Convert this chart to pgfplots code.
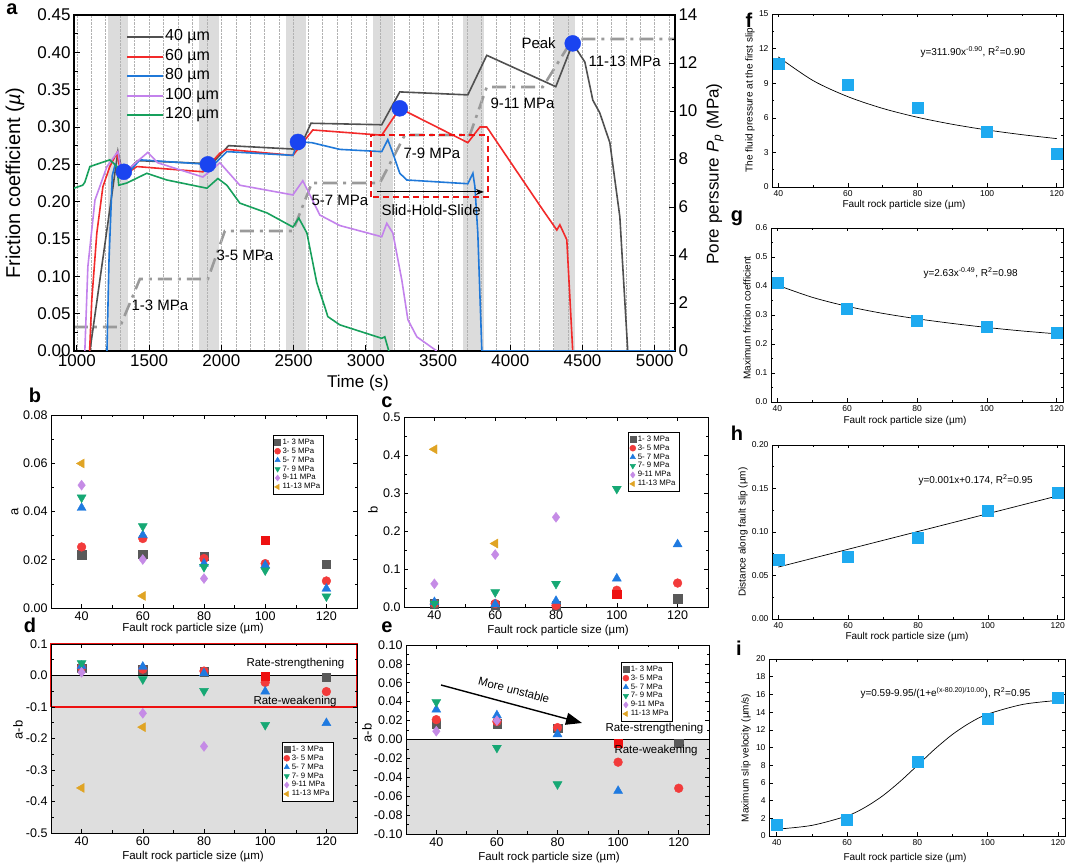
\documentclass[border=0pt]{standalone}
\usepackage{fontspec}
\setmainfont{Liberation Sans}
\usepackage{pgfplots}
\pgfplotsset{compat=1.18}
\usetikzlibrary{arrows.meta}

\definecolor{c40}{HTML}{505050}
\definecolor{c60}{HTML}{F22A2A}
\definecolor{c80}{HTML}{1F78D8}
\definecolor{c100}{HTML}{C382EC}
\definecolor{c120}{HTML}{17A05C}
\definecolor{cpore}{HTML}{9A9A9A}
\definecolor{dotblue}{HTML}{1A44F0}
\definecolor{band}{HTML}{DCDCDC}
\definecolor{gfill}{HTML}{DEDEDE}
\definecolor{msq}{HTML}{595959}
\definecolor{mci}{HTML}{F23B3B}
\definecolor{mtri}{HTML}{1F7AE0}
\definecolor{mdn}{HTML}{16A874}
\definecolor{mdia}{HTML}{C58BE6}
\definecolor{mleft}{HTML}{E0A424}
\definecolor{mred}{HTML}{EE1111}
\definecolor{sky}{HTML}{1EAAF0}

\newcommand{\fs}[1]{\fontsize{#1}{#1}\selectfont}

\pgfplotsset{
  every axis/.append style={scale only axis, anchor=south west, tick align=inside,
    scaled ticks=false, /pgf/number format/assume math mode=true,
    /pgf/number format/1000 sep={}},
  prec/.style={/pgf/number format/.cd, fixed, fixed zerofill, precision=#1, /tikz/.cd},
  sp/.style={xmin=30, xmax=130, xtick={40,60,80,100,120}, minor x tick num=1,
    minor y tick num=1, tick label style={font=\fs{12.5}},
    major tick length=4pt, minor tick length=2.5pt,
    axis line style={line width=0.8pt}, every tick/.style={black, line width=0.6pt},
    legend style={anchor=north west, font=\fs{7.8}, draw=black, line width=0.5pt,
      inner sep=1.5pt, row sep=-2pt, cells={anchor=west}},
    legend image post style={mark size=3pt}},
  rp/.style={xmin=38.2, xmax=121.8, xtick={40,60,80,100,120}, minor x tick num=1,
    minor y tick num=1, tick label style={font=\fs{8.5}},
    major tick length=3.5pt, minor tick length=2pt,
    axis line style={line width=0.7pt}, every tick/.style={black, line width=0.5pt}},
  m1/.style={only marks, mark=square*, mark size=4.2pt, color=msq},
  m2/.style={only marks, mark=*, mark size=4.4pt, color=mci},
  m3/.style={only marks, mark=triangle*, mark size=5.2pt, color=mtri},
  m4/.style={only marks, mark=triangle*, mark size=5.2pt, mark options={rotate=180}, color=mdn},
  m5/.style={only marks, mark=diamond*, mark size=5pt, color=mdia},
  m6/.style={only marks, mark=triangle*, mark size=5.2pt, mark options={rotate=90}, color=mleft},
  mr/.style={only marks, mark=square*, mark size=4.2pt, color=mred, forget plot},
  sq/.style={only marks, mark=square*, mark size=5.5pt, color=sky},
  fit/.style={black, line width=0.7pt, smooth, no marks},
}

\begin{document}
\begin{tikzpicture}[x=1pt,y=1pt]
\useasboundingbox (0,0) rectangle (1068,866);

% ---------- panel a: pore pressure (right axis)
\begin{axis}[at={(74pt,515pt)}, width=601pt, height=336pt,
  xmin=980, xmax=5140, ymin=0, ymax=14, axis on top,
  xtick=\empty, ytick={0,2,...,14}, minor y tick num=1,
  ytick pos=right, yticklabel pos=right, axis line style={draw=none},
  tick label style={font=\fs{17}}, major tick length=6pt, minor tick length=3.5pt,
  every tick/.style={black, line width=0.8pt}]
\addplot[fill=band, draw=none] coordinates {(1215,0) (1353,0) (1353,14) (1215,14)};
\addplot[fill=band, draw=none] coordinates {(1844,0) (1983,0) (1983,14) (1844,14)};
\addplot[fill=band, draw=none] coordinates {(2446,0) (2585,0) (2585,14) (2446,14)};
\addplot[fill=band, draw=none] coordinates {(3049,0) (3187,0) (3187,14) (3049,14)};
\addplot[fill=band, draw=none] coordinates {(3671,0) (3817,0) (3817,14) (3671,14)};
\addplot[fill=band, draw=none] coordinates {(4301,0) (4446,0) (4446,14) (4301,14)};
\addplot[cpore, line width=2.6pt, dash pattern=on 14pt off 6pt on 3pt off 6pt] coordinates {
(979,1) (1298,1) (1436,3) (1907,3) (2024,5) (2495,5) (2626,7) (3097,7)
(3270,9) (3720,9) (3837,11) (4225,11) (4432,13) (5140,13)};
\end{axis}

% ---------- panel a: friction (left axis)
\begin{axis}[at={(74pt,515pt)}, width=601pt, height=336pt,
  xmin=980, xmax=5140, ymin=0, ymax=0.45,
  xtick={1000,1500,...,5000}, minor xtick={1000,1100,...,5100},
  ytick={0,0.05,0.1,0.15,0.2,0.25,0.3,0.35,0.4,0.45}, minor y tick num=1,
  xtick pos=left, ytick pos=left, yticklabel style={prec=2},
  xmajorgrids, xminorgrids, grid style={densely dotted, gray!60, line width=0.6pt},
  minor x tick style={draw=none},
  axis line style={line width=1.2pt},
  tick label style={font=\fs{17}}, major tick length=6pt, minor tick length=3.5pt,
  every tick/.style={black, line width=0.8pt}]
\addplot[c40, line width=1.6pt] coordinates {
(1090,0) (1284,0.267) (1320,0.235) (1420,0.255) (1900,0.251) (1930,0.25)
(2050,0.275) (2540,0.270) (2620,0.305) (3110,0.303) (3235,0.347) (3706,0.343)
(3837,0.396) (4315,0.354) (4432,0.412) (4516,0.387) (4571,0.336) (4619,0.319)
(4689,0.279) (4758,0.18) (4813,0)};
\addplot[c60, line width=1.6pt] coordinates {
(1088,0) (1103,0.068) (1138,0.158) (1180,0.22) (1228,0.247) (1276,0.265)
(1311,0.233) (1415,0.247) (1872,0.24) (1990,0.265) (2038,0.27) (2495,0.262)
(2633,0.296) (3110,0.289) (3235,0.325) (3706,0.279) (3790,0.300) (3837,0.300)
(4225,0.189) (4322,0.162) (4343,0.169) (4391,0.149) (4432,0)};
\addplot[c80, line width=1.6pt] coordinates {
(1208,0) (1222,0.12) (1245,0.235) (1265,0.25) (1300,0.24) (1340,0.235)
(1436,0.256) (1907,0.250) (1960,0.252) (2038,0.267) (2495,0.262) (2530,0.28)
(2626,0.279) (2820,0.27) (3110,0.267) (3152,0.283) (3187,0.265) (3235,0.238)
(3284,0.229) (3706,0.224) (3741,0.238) (3755,0.22) (3775,0.158) (3803,0) (5140,0)};
\addplot[c100, line width=1.6pt] coordinates {
(1055,0) (1076,0.113) (1125,0.202) (1208,0.247) (1284,0.267) (1311,0.236)
(1491,0.266) (1560,0.252) (1872,0.233) (1990,0.252) (2128,0.222) (2495,0.209)
(2564,0.228) (2682,0.182) (2820,0.168) (3110,0.153) (3145,0.171) (3187,0.158)
(3249,0.095) (3291,0.042) (3353,0.019) (3491,0)};
\addplot[c120, line width=1.6pt] coordinates {
(979,0.218) (1040,0.222) (1055,0.226) (1090,0.247) (1228,0.256) (1277,0.247)
(1290,0.222) (1346,0.225) (1484,0.238) (1623,0.229) (1900,0.218) (1976,0.231)
(2038,0.222) (2128,0.198) (2315,0.185) (2495,0.166) (2536,0.178) (2592,0.158)
(2661,0.091) (2716,0.059) (2737,0.046) (2820,0.035) (3110,0.017) (3131,0.019) (3159,0)};
\addplot[only marks, mark=*, mark size=8pt, color=dotblue] coordinates {
(1325,0.24) (1907,0.25) (2530,0.28) (3235,0.325) (4432,0.412)};
\draw[color=mred, dash pattern=on 6pt off 4pt, line width=2.2pt]
  (axis cs:3035,0.206) rectangle (axis cs:3844,0.289);
\draw[-{Stealth[length=8pt,width=6pt]}, line width=0.9pt]
  (axis cs:3076,0.213) -- (axis cs:3817,0.213);
\end{axis}

% legend of panel a
\foreach \c/\t/\yy in {c40/40/829, c60/60/809, c80/80/790, c100/100/770, c120/120/751} {
  \draw[\c, line width=1.6pt] (127,\yy) -- (163,\yy);
  \node[font=\fs{16}, anchor=west, inner sep=1pt] at (164,\yy) {\t\ µm};
}

% ---------- panel b
\begin{axis}[sp, at={(51pt,258pt)}, width=306pt, height=193pt,
  ymin=0, ymax=0.08, ytick={0,0.02,0.04,0.06,0.08}, yticklabel style={prec=2},
  legend style={at={(0.725,0.896)}}]
\addplot[m1] coordinates {(40,0.0221) (60,0.0223) (80,0.0214) (120,0.0181)};
\addlegendentry{1- 3 MPa}
\addplot[m2] coordinates {(40,0.0253) (60,0.0288) (80,0.0205) (100,0.0184) (120,0.0112)};
\addlegendentry{3- 5 MPa}
\addplot[m3] coordinates {(40,0.0415) (60,0.0302) (80,0.0184) (100,0.0177) (120,0.008)};
\addlegendentry{5- 7 MPa}
\addplot[m4] coordinates {(40,0.0458) (60,0.0339) (80,0.017) (100,0.0156) (120,0.0048)};
\addlegendentry{7- 9 MPa}
\addplot[m5] coordinates {(40,0.0509) (60,0.0201) (80,0.0122)};
\addlegendentry{9-11 MPa}
\addplot[m6] coordinates {(40,0.0599) (60,0.005)};
\addlegendentry{11-13 MPa}
\addplot[mr] coordinates {(100,0.0281)};
\end{axis}

% ---------- panel c
\begin{axis}[sp, at={(404pt,259pt)}, width=304pt, height=190pt,
  ymin=0, ymax=0.5, ytick={0,0.1,0.2,0.3,0.4,0.5}, yticklabel style={prec=1},
  legend style={at={(0.737,0.921)}}]
\addplot[m1] coordinates {(40,0.009) (60,0.004) (80,0.003) (120,0.022)};
\addlegendentry{1- 3 MPa}
\addplot[m2] coordinates {(40,0.009) (60,0.009) (80,0.004) (100,0.044) (120,0.063)};
\addlegendentry{3- 5 MPa}
\addplot[m3] coordinates {(40,0.013) (60,0.007) (80,0.016) (100,0.075) (120,0.165)};
\addlegendentry{5- 7 MPa}
\addplot[m4] coordinates {(40,0.009) (60,0.039) (80,0.061) (100,0.311)};
\addlegendentry{7- 9 MPa}
\addplot[m5] coordinates {(40,0.061) (60,0.138) (80,0.236)};
\addlegendentry{9-11 MPa}
\addplot[m6] coordinates {(40,0.415) (60,0.167)};
\addlegendentry{11-13 MPa}
\addplot[mr] coordinates {(100,0.033)};
\end{axis}

% ---------- panel d
\begin{axis}[sp, at={(51pt,33pt)}, width=306pt, height=189pt, clip=false, axis on top,
  ymin=-0.5, ymax=0.1, ytick={-0.5,-0.4,-0.3,-0.2,-0.1,0,0.1}, yticklabel style={prec=1},
  legend style={at={(0.755,0.481)}}]
\addplot[fill=gfill, draw=none, forget plot] coordinates {(30,-0.5) (130,-0.5) (130,0) (30,0)};
\addplot[black, line width=1.2pt, forget plot] coordinates {(30,0) (130,0)};
\addplot[m1] coordinates {(40,0.023) (60,0.018) (80,0.012) (120,-0.0056)};
\addlegendentry{1- 3 MPa}
\addplot[m2] coordinates {(40,0.026) (60,0.02) (80,0.014) (100,-0.022) (120,-0.051)};
\addlegendentry{3- 5 MPa}
\addplot[m3] coordinates {(40,0.031) (60,0.028) (80,0.007) (100,-0.051) (120,-0.151)};
\addlegendentry{5- 7 MPa}
\addplot[m4] coordinates {(40,0.039) (60,-0.012) (80,-0.049) (100,-0.157)};
\addlegendentry{7- 9 MPa}
\addplot[m5] coordinates {(40,0.010) (60,-0.12) (80,-0.225)};
\addlegendentry{9-11 MPa}
\addplot[m6] coordinates {(40,-0.357) (60,-0.164)};
\addlegendentry{11-13 MPa}
\addplot[mr] coordinates {(100,-0.002)};
\addplot[draw=mred, line width=2pt, forget plot] coordinates {(30,-0.1) (130,-0.1) (130,0.1) (30,0.1) (30,-0.1)};
\end{axis}

% ---------- panel e
\begin{axis}[sp, at={(406pt,32pt)}, width=303pt, height=189pt, axis on top,
  ymin=-0.1, ymax=0.1, ytick={-0.1,-0.08,-0.06,-0.04,-0.02,0,0.02,0.04,0.06,0.08,0.1},
  yticklabel style={prec=2}, legend style={at={(0.71,0.91)}}]
\addplot[fill=gfill, draw=none, forget plot] coordinates {(30,-0.1) (130,-0.1) (130,0) (30,0)};
\addplot[black, line width=1.2pt, forget plot] coordinates {(30,0) (130,0)};
\addplot[m1] coordinates {(40,0.0161) (60,0.0168) (80,0.012) (120,-0.0042)};
\addlegendentry{1- 3 MPa}
\addplot[m2] coordinates {(40,0.021) (60,0.019) (80,0.0126) (100,-0.024) (120,-0.0516)};
\addlegendentry{3- 5 MPa}
\addplot[m3] coordinates {(40,0.0316) (60,0.0256) (80,0.0056) (100,-0.0544)};
\addlegendentry{5- 7 MPa}
\addplot[m4] coordinates {(40,0.0396) (60,-0.0088) (80,-0.0474)};
\addlegendentry{7- 9 MPa}
\addplot[m5] coordinates {(40,0.0088) (60,0.02)};
\addlegendentry{9-11 MPa}
\addlegendimage{m6}
\addlegendentry{11-13 MPa}
\addplot[mr] coordinates {(100,-0.0042)};
\end{axis}

% ---------- panel f
\begin{axis}[rp, at={(772pt,679pt)}, width=291pt, height=173pt,
  ymin=0, ymax=15, ytick={0,3,6,9,12,15}]
\addplot[fit] coordinates {(40,11.28) (50,9.225) (60,7.831) (70,6.813) (80,6.042)
  (90,5.436) (100,4.943) (110,4.537) (120,4.195)};
\addplot[sq] coordinates {(40,10.7) (60,8.83) (80,6.89) (100,4.78) (120,2.90)};
\end{axis}

% ---------- panel g
\begin{axis}[rp, at={(771pt,464pt)}, width=292pt, height=174pt,
  ymin=0, ymax=0.6, ytick={0,0.1,0.2,0.3,0.4,0.5,0.6}, yticklabel style={prec=1}]
\addplot[fit] coordinates {(40,0.403) (50,0.361) (60,0.330) (70,0.306) (80,0.287)
  (90,0.271) (100,0.257) (110,0.245) (120,0.235)};
\addplot[sq] coordinates {(40,0.41) (60,0.32) (80,0.279) (100,0.26) (120,0.239)};
\end{axis}

% ---------- panel h
\begin{axis}[rp, at={(772pt,247pt)}, width=292pt, height=174pt,
  ymin=0, ymax=0.2, ytick={0,0.05,0.1,0.15,0.2}, yticklabel style={prec=2}]
\addplot[fit] coordinates {(40,0.0597) (120,0.1415)};
\addplot[sq] coordinates {(40,0.068) (60,0.0719) (80,0.0929) (100,0.1243) (120,0.1457)};
\end{axis}

% ---------- panel i
\begin{axis}[rp, at={(769pt,30pt)}, width=296pt, height=177pt, xmin=37.8, xmax=122,
  ymin=0, ymax=20, ytick={0,2,...,20}, minor y tick num=0]
\addplot[fit] coordinates {(40,0.77) (50,1.2) (60,2.27) (65,3.21) (70,4.5) (75,6.13)
  (80,7.97) (85,9.83) (90,11.48) (95,12.8) (100,13.77) (110,14.87) (120,15.32)};
\addplot[sq] coordinates {(40,1.29) (60,1.85) (80,8.39) (100,13.2) (120,15.65)};
\end{axis}

% ---------- texts, panel a
\node[font=\fs{15}, anchor=west] at (128,561) {1-3 MPa};
\node[font=\fs{15}, anchor=west] at (213,611) {3-5 MPa};
\node[font=\fs{15}, anchor=west] at (308,666) {5-7 MPa};
\node[font=\fs{15}, anchor=west] at (400,713) {7-9 MPa};
\node[font=\fs{15}, anchor=west] at (487,763) {9-11 MPa};
\node[font=\fs{15}, anchor=west] at (585,805) {11-13 MPa};
\node[font=\fs{15}, anchor=west] at (518,823) {Peak};
\node[font=\fs{15}, anchor=west] at (378,656) {Slid-Hold-Slide};
\node[font=\fs{20}, rotate=90] at (15,683) {Friction coefficient (\textit{µ})};
\node[font=\fs{17}, rotate=90] at (715,692) {Pore perssure \textit{P\textsubscript{p}} (MPa)};
\node[font=\fs{17}] at (358,483) {Time (s)};

% ---------- panel letters
\node[font=\bfseries\fs{20}] at (12,857) {a};
\node[font=\bfseries\fs{20}] at (35,471) {b};
\node[font=\bfseries\fs{20}] at (387,464) {c};
\node[font=\bfseries\fs{20}] at (30,241) {d};
\node[font=\bfseries\fs{20}] at (387,239) {e};
\node[font=\bfseries\fs{20}] at (749,846) {f};
\node[font=\bfseries\fs{20}] at (737,648) {g};
\node[font=\bfseries\fs{20}] at (737,433) {h};
\node[font=\bfseries\fs{20}] at (739,218) {i};

% ---------- texts, panels b-e
\node[font=\fs{13}, rotate=90] at (15,354) {a};
\node[font=\fs{13}, rotate=90] at (373,356) {b};
\node[font=\fs{13}, rotate=90] at (18,136) {a-b};
\node[font=\fs{13}, rotate=90] at (367,133) {a-b};
\node[font=\fs{11.5}] at (193,237) {Fault rock particle size (µm)};
\node[font=\fs{11.5}] at (558,235) {Fault rock particle size (µm)};
\node[font=\fs{11.5}] at (193,9) {Fault rock particle size (µm)};
\node[font=\fs{11.5}] at (549,8) {Fault rock particle size (µm)};
\node[font=\fs{11.5}, anchor=west] at (243,202) {Rate-strengthening};
\node[font=\fs{11.5}, anchor=west] at (250,164) {Rate-weakening};
\node[font=\fs{11.5}, anchor=west] at (602,137) {Rate-strengthening};
\node[font=\fs{11.5}, anchor=west] at (611,115) {Rate-weakening};
\draw[-{Triangle[length=16pt,width=12pt]}, line width=1.4pt] (441,181) -- (582,143);
\node[font=\fs{11.5}, rotate=-15, inner sep=1pt] at (514,176) {More unstable};

% ---------- texts, panels f-i
\node[font=\fs{10}, rotate=90] at (750,766) {The fluid pressure at the first slip};
\node[font=\fs{10}, rotate=90] at (747,548) {Maximum friction coefficient};
\node[font=\fs{10}, rotate=90] at (743,334) {Distance along fault slip (µm)};
\node[font=\fs{10}, rotate=90] at (746,108) {Maximum slip velocity (µm/s)};
\node[font=\fs{10}] at (904,661) {Fault rock particle size (µm)};
\node[font=\fs{10}] at (905,445) {Fault rock particle size (µm)};
\node[font=\fs{10}] at (907,229) {Fault rock particle size (µm)};
\node[font=\fs{10}] at (905,8) {Fault rock particle size (µm)};
\node[font=\fs{10}, anchor=west] at (917,814) {y=311.90x\textsuperscript{-0.90}, R\textsuperscript{2}=0.90};
\node[font=\fs{10}, anchor=west] at (920,593) {y=2.63x\textsuperscript{-0.49}, R\textsuperscript{2}=0.98};
\node[font=\fs{10}, anchor=west] at (915,386) {y=0.001x+0.174, R\textsuperscript{2}=0.95};
\node[font=\fs{10}, anchor=west] at (857,173) {y=0.59-9.95/(1+e\textsuperscript{(x-80.20)/10.00}), R\textsuperscript{2}=0.95};
\end{tikzpicture}
\end{document}
